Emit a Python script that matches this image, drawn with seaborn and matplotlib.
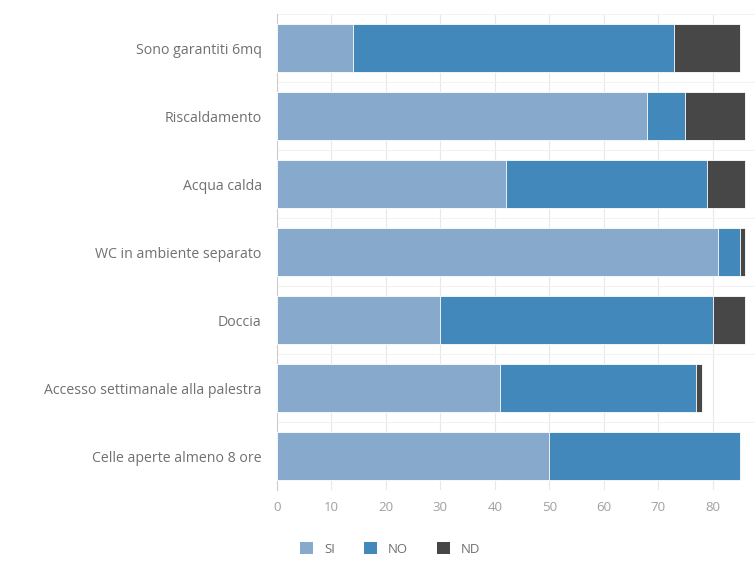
import numpy as np
import pandas as pd
import matplotlib.pyplot as plt
plt.switch_backend('agg')
import seaborn as sns
from matplotlib.patches import Patch

categories = ["Sono garantiti 6mq", "Riscaldamento", "Acqua calda",
              "WC in ambiente separato", "Doccia",
              "Accesso settimanale alla palestra", "Celle aperte almeno 8 ore"]
si = [14, 68, 42, 81, 30, 41, 50]
no = [59, 7, 37, 4, 50, 36, 35]
nd = [12, 11, 7, 1, 6, 1, 0]
series = ["SI", "NO", "ND"]
colors = ["#87a9cc", "#4388ba", "#474747"]

df = pd.DataFrame({"cat": categories, "SI": si, "NO": no, "ND": nd})
df["SI_NO"] = df["SI"] + df["NO"]
df["TOT"] = df["SI_NO"] + df["ND"]

sns.set_theme(style="white")
plt.rcParams['font.family'] = ['Open Sans', 'DejaVu Sans']

fig = plt.figure(figsize=(7.55, 5.61), dpi=100)
ax = fig.add_axes([277 / 755, 71 / 561, 490 / 755, 476 / 561])

# stacked bars drawn as overlapping cumulative totals
for col, c in zip(["TOT", "SI_NO", "SI"], colors[::-1]):
    sns.barplot(data=df, x=col, y="cat", color=c, orient="h", width=0.71,
                saturation=1, edgecolor="white", linewidth=0.6, ax=ax, zorder=3)

ax.set_xlim(0, 90)
ax.set_ylim(6.5, -0.5)
ax.set_xticks(np.arange(0, 81, 10))
ax.set_xlabel("")
ax.set_ylabel("")
ax.grid(axis="x", color="#e8e8e8", linewidth=0.8, zorder=0)
ax.set_yticks(np.arange(-0.5, 7, 1), minor=True)
ax.grid(axis="y", which="minor", color="#f2f2f2", linewidth=0.8, zorder=0)
ax.tick_params(axis="y", which="minor", length=10, color="#dddddd", width=0.8)
ax.tick_params(axis="y", which="major", length=0, labelsize=10.2, labelcolor="#707070", pad=11)
ax.tick_params(axis="x", length=0, labelsize=9.5, labelcolor="#a0a0a0", pad=8)
for s in ["top", "right", "bottom"]:
    ax.spines[s].set_visible(False)
ax.spines["left"].set_color("#cccccc")
ax.spines["left"].set_linewidth(0.8)

handles = [Patch(facecolor=c, edgecolor="none", label=s) for s, c in zip(series, colors)]
fig.legend(handles=handles, loc="center", bbox_to_anchor=(390 / 755, 1 - 549 / 561),
           ncol=3, frameon=False, fontsize=9.5, handlelength=1.0, handleheight=1.0,
           columnspacing=2.2, handletextpad=0.8, labelcolor="#707070")

fig.savefig("out.png", dpi=100)
